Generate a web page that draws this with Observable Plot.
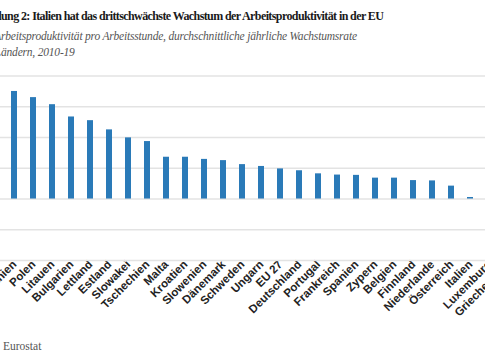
<!DOCTYPE html>
<html>
<head>
<meta charset="utf-8">
<script src="https://cdn.jsdelivr.net/npm/d3@7"></script>
<script src="https://cdn.jsdelivr.net/npm/@observablehq/plot@0.6"></script>
<style>
  html, body { margin: 0; padding: 0; background: #ffffff; }
  body { width: 485px; height: 360px; overflow: hidden; position: relative; }
  .hdr { position: absolute; white-space: nowrap; font-family: "Liberation Serif", "DejaVu Serif", serif; }
  #title { top: 9px; font-size: 12px; font-weight: bold; color: #1a1a1a; letter-spacing: -0.6px; }
  .sub { font-size: 11.5px; font-style: italic; color: #555; letter-spacing: -0.2px; }
  #sub1 { top: 30px; }
  #sub2 { top: 46px; }
  #source { top: 340px; left: 3px; font-size: 11.5px; color: #555; }
  #chart { position: absolute; top: 60px; left: -40px; width: 588px; height: 260px; }
  #chart svg { max-width: none !important; }
</style>
</head>
<body>
<div id="title" class="hdr">Abbildung 2: Italien hat das drittschwächste Wachstum der Arbeitsproduktivität in der EU</div>
<div id="sub1" class="hdr sub">Arbeitsproduktivität pro Arbeitsstunde, durchschnittliche jährliche Wachstumsrate</div>
<div id="sub2" class="hdr sub">Ländern, 2010-19</div>
<div id="source" class="hdr">Eurostat</div>
<div id="chart"></div>
<script>
const countries = ["Rumänien","Polen","Litauen","Bulgarien","Lettland","Estland","Slowakei","Tschechien","Malta","Kroatien","Slowenien","Dänemark","Schweden","Ungarn","EU 27","Deutschland","Portugal","Frankreich","Spanien","Zypern","Belgien","Finnland","Niederlande","Österreich","Italien","Luxemburg","Griechenland"];
const growth = [3.50,3.30,3.07,2.67,2.55,2.25,1.99,1.87,1.36,1.36,1.29,1.25,1.12,1.06,0.98,0.92,0.82,0.78,0.77,0.68,0.68,0.60,0.59,0.42,0.05,-0.15,-0.60];
const yTicks = [-2,-1,0,1,2,3,4];

const data = countries.map((c, i) => ({country: c, value: growth[i]}));

// shift clipped header lines so their first letters fall off the left edge
function clipLeft(id, prefix) {
  const el = document.getElementById(id);
  const s = document.createElement("span");
  s.className = el.className;
  const cs = getComputedStyle(el);
  s.style.fontSize = cs.fontSize; s.style.fontWeight = cs.fontWeight;
  s.style.fontStyle = cs.fontStyle; s.style.letterSpacing = cs.letterSpacing;
  s.style.position = "absolute"; s.style.visibility = "hidden"; s.style.top = "0";
  s.textContent = prefix;
  document.body.appendChild(s);
  el.style.left = (-s.getBoundingClientRect().width + 1) + "px";
  s.remove();
}
clipLeft("title", "Abbild");
clipLeft("sub1", "A");
clipLeft("sub2", "L");

const chart = Plot.plot({
  width: 588,
  height: 260,
  marginLeft: 33,
  marginRight: 20,
  marginTop: 15.6,
  marginBottom: 60,
  style: {fontFamily: "'Liberation Sans', Arial, sans-serif", fontSize: "11.5px", fontWeight: "bold", color: "#222", background: "transparent", maxWidth: "none"},
  x: {domain: countries, padding: 0.69, tickRotate: -45, tickSize: 0, tickPadding: 2, label: null},
  y: {domain: [-2, 4], axis: null},
  marks: [
    Plot.ruleY(yTicks, {stroke: "#e3e3e3", strokeWidth: 1.5}),
    Plot.barY(data, {x: "country", y: "value", fill: "#2a7ab8"})
  ]
});
document.getElementById("chart").appendChild(chart);
</script>
</body>
</html>
